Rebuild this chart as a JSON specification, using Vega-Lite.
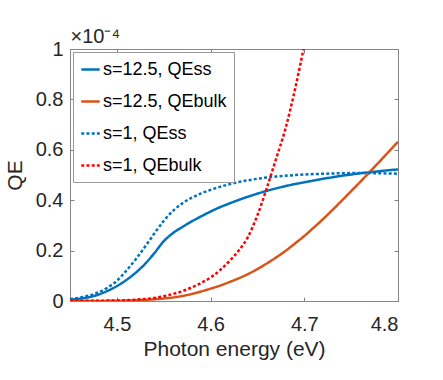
{
  "$schema": "https://vega.github.io/schema/vega-lite/v6.json",
  "width": 328,
  "height": 252,
  "autosize": {"type": "none"},
  "padding": {"left": 70, "top": 49, "right": 45, "bottom": 79},
  "config": {
    "font": "Liberation Sans",
    "view": {"stroke": "#868686", "strokeWidth": 1},
    "axis": {"domain": false, "grid": false, "ticks": true, "tickColor": "#808080", "tickSize": 4, "tickWidth": 1, "labelFontSize": 20, "labelColor": "#262626", "titleFontSize": 21, "titleFontWeight": "normal", "titleColor": "#262626", "labelFont": "Liberation Sans", "titleFont": "Liberation Sans"},
    "legend": {"orient": "top-left", "offset": 3, "fillColor": "white", "strokeColor": "#999999", "padding": 7, "labelFontSize": 18, "labelColor": "#000000", "labelFont": "Liberation Sans", "symbolType": "stroke", "symbolSize": 340, "symbolStrokeWidth": 2.5, "rowPadding": 12, "labelOffset": 2, "title": null}
  },
  "data": {"values": [
    {"e": 4.45, "qe": 0.005, "s": "s=12.5, QEss"},
    {"e": 4.46, "qe": 0.009, "s": "s=12.5, QEss"},
    {"e": 4.47, "qe": 0.015, "s": "s=12.5, QEss"},
    {"e": 4.48, "qe": 0.025, "s": "s=12.5, QEss"},
    {"e": 4.49, "qe": 0.04, "s": "s=12.5, QEss"},
    {"e": 4.50, "qe": 0.059, "s": "s=12.5, QEss"},
    {"e": 4.51, "qe": 0.083, "s": "s=12.5, QEss"},
    {"e": 4.52, "qe": 0.112, "s": "s=12.5, QEss"},
    {"e": 4.53, "qe": 0.147, "s": "s=12.5, QEss"},
    {"e": 4.54, "qe": 0.19, "s": "s=12.5, QEss"},
    {"e": 4.55, "qe": 0.237, "s": "s=12.5, QEss"},
    {"e": 4.56, "qe": 0.27, "s": "s=12.5, QEss"},
    {"e": 4.57, "qe": 0.294, "s": "s=12.5, QEss"},
    {"e": 4.58, "qe": 0.316, "s": "s=12.5, QEss"},
    {"e": 4.59, "qe": 0.336, "s": "s=12.5, QEss"},
    {"e": 4.60, "qe": 0.355, "s": "s=12.5, QEss"},
    {"e": 4.61, "qe": 0.372, "s": "s=12.5, QEss"},
    {"e": 4.62, "qe": 0.387, "s": "s=12.5, QEss"},
    {"e": 4.63, "qe": 0.401, "s": "s=12.5, QEss"},
    {"e": 4.64, "qe": 0.414, "s": "s=12.5, QEss"},
    {"e": 4.65, "qe": 0.426, "s": "s=12.5, QEss"},
    {"e": 4.66, "qe": 0.437, "s": "s=12.5, QEss"},
    {"e": 4.67, "qe": 0.447, "s": "s=12.5, QEss"},
    {"e": 4.68, "qe": 0.456, "s": "s=12.5, QEss"},
    {"e": 4.69, "qe": 0.464, "s": "s=12.5, QEss"},
    {"e": 4.70, "qe": 0.471, "s": "s=12.5, QEss"},
    {"e": 4.71, "qe": 0.478, "s": "s=12.5, QEss"},
    {"e": 4.72, "qe": 0.485, "s": "s=12.5, QEss"},
    {"e": 4.73, "qe": 0.491, "s": "s=12.5, QEss"},
    {"e": 4.74, "qe": 0.497, "s": "s=12.5, QEss"},
    {"e": 4.75, "qe": 0.502, "s": "s=12.5, QEss"},
    {"e": 4.76, "qe": 0.507, "s": "s=12.5, QEss"},
    {"e": 4.77, "qe": 0.511, "s": "s=12.5, QEss"},
    {"e": 4.78, "qe": 0.515, "s": "s=12.5, QEss"},
    {"e": 4.79, "qe": 0.519, "s": "s=12.5, QEss"},
    {"e": 4.80, "qe": 0.522, "s": "s=12.5, QEss"},

    {"e": 4.45, "qe": 0.0, "s": "s=12.5, QEbulk"},
    {"e": 4.48, "qe": 0.0003, "s": "s=12.5, QEbulk"},
    {"e": 4.50, "qe": 0.001, "s": "s=12.5, QEbulk"},
    {"e": 4.52, "qe": 0.003, "s": "s=12.5, QEbulk"},
    {"e": 4.54, "qe": 0.007, "s": "s=12.5, QEbulk"},
    {"e": 4.55, "qe": 0.010, "s": "s=12.5, QEbulk"},
    {"e": 4.56, "qe": 0.014, "s": "s=12.5, QEbulk"},
    {"e": 4.57, "qe": 0.02, "s": "s=12.5, QEbulk"},
    {"e": 4.58, "qe": 0.028, "s": "s=12.5, QEbulk"},
    {"e": 4.59, "qe": 0.038, "s": "s=12.5, QEbulk"},
    {"e": 4.60, "qe": 0.049, "s": "s=12.5, QEbulk"},
    {"e": 4.61, "qe": 0.061, "s": "s=12.5, QEbulk"},
    {"e": 4.62, "qe": 0.075, "s": "s=12.5, QEbulk"},
    {"e": 4.63, "qe": 0.09, "s": "s=12.5, QEbulk"},
    {"e": 4.64, "qe": 0.107, "s": "s=12.5, QEbulk"},
    {"e": 4.65, "qe": 0.127, "s": "s=12.5, QEbulk"},
    {"e": 4.66, "qe": 0.149, "s": "s=12.5, QEbulk"},
    {"e": 4.67, "qe": 0.173, "s": "s=12.5, QEbulk"},
    {"e": 4.68, "qe": 0.199, "s": "s=12.5, QEbulk"},
    {"e": 4.69, "qe": 0.228, "s": "s=12.5, QEbulk"},
    {"e": 4.70, "qe": 0.258, "s": "s=12.5, QEbulk"},
    {"e": 4.71, "qe": 0.291, "s": "s=12.5, QEbulk"},
    {"e": 4.72, "qe": 0.325, "s": "s=12.5, QEbulk"},
    {"e": 4.73, "qe": 0.361, "s": "s=12.5, QEbulk"},
    {"e": 4.74, "qe": 0.398, "s": "s=12.5, QEbulk"},
    {"e": 4.75, "qe": 0.436, "s": "s=12.5, QEbulk"},
    {"e": 4.76, "qe": 0.474, "s": "s=12.5, QEbulk"},
    {"e": 4.77, "qe": 0.513, "s": "s=12.5, QEbulk"},
    {"e": 4.78, "qe": 0.552, "s": "s=12.5, QEbulk"},
    {"e": 4.79, "qe": 0.592, "s": "s=12.5, QEbulk"},
    {"e": 4.80, "qe": 0.632, "s": "s=12.5, QEbulk"},

    {"e": 4.45, "qe": 0.008, "s": "s=1, QEss"},
    {"e": 4.46, "qe": 0.013, "s": "s=1, QEss"},
    {"e": 4.47, "qe": 0.021, "s": "s=1, QEss"},
    {"e": 4.48, "qe": 0.034, "s": "s=1, QEss"},
    {"e": 4.49, "qe": 0.053, "s": "s=1, QEss"},
    {"e": 4.50, "qe": 0.08, "s": "s=1, QEss"},
    {"e": 4.51, "qe": 0.12, "s": "s=1, QEss"},
    {"e": 4.52, "qe": 0.165, "s": "s=1, QEss"},
    {"e": 4.53, "qe": 0.215, "s": "s=1, QEss"},
    {"e": 4.54, "qe": 0.268, "s": "s=1, QEss"},
    {"e": 4.55, "qe": 0.318, "s": "s=1, QEss"},
    {"e": 4.56, "qe": 0.358, "s": "s=1, QEss"},
    {"e": 4.57, "qe": 0.388, "s": "s=1, QEss"},
    {"e": 4.58, "qe": 0.41, "s": "s=1, QEss"},
    {"e": 4.59, "qe": 0.427, "s": "s=1, QEss"},
    {"e": 4.60, "qe": 0.441, "s": "s=1, QEss"},
    {"e": 4.61, "qe": 0.453, "s": "s=1, QEss"},
    {"e": 4.62, "qe": 0.463, "s": "s=1, QEss"},
    {"e": 4.63, "qe": 0.472, "s": "s=1, QEss"},
    {"e": 4.64, "qe": 0.479, "s": "s=1, QEss"},
    {"e": 4.65, "qe": 0.485, "s": "s=1, QEss"},
    {"e": 4.66, "qe": 0.49, "s": "s=1, QEss"},
    {"e": 4.67, "qe": 0.494, "s": "s=1, QEss"},
    {"e": 4.68, "qe": 0.497, "s": "s=1, QEss"},
    {"e": 4.69, "qe": 0.5, "s": "s=1, QEss"},
    {"e": 4.70, "qe": 0.502, "s": "s=1, QEss"},
    {"e": 4.72, "qe": 0.505, "s": "s=1, QEss"},
    {"e": 4.74, "qe": 0.507, "s": "s=1, QEss"},
    {"e": 4.76, "qe": 0.508, "s": "s=1, QEss"},
    {"e": 4.78, "qe": 0.507, "s": "s=1, QEss"},
    {"e": 4.80, "qe": 0.505, "s": "s=1, QEss"},

    {"e": 4.45, "qe": 0.0005, "s": "s=1, QEbulk"},
    {"e": 4.47, "qe": 0.001, "s": "s=1, QEbulk"},
    {"e": 4.49, "qe": 0.0015, "s": "s=1, QEbulk"},
    {"e": 4.50, "qe": 0.002, "s": "s=1, QEbulk"},
    {"e": 4.51, "qe": 0.003, "s": "s=1, QEbulk"},
    {"e": 4.52, "qe": 0.005, "s": "s=1, QEbulk"},
    {"e": 4.53, "qe": 0.008, "s": "s=1, QEbulk"},
    {"e": 4.54, "qe": 0.012, "s": "s=1, QEbulk"},
    {"e": 4.55, "qe": 0.019, "s": "s=1, QEbulk"},
    {"e": 4.56, "qe": 0.028, "s": "s=1, QEbulk"},
    {"e": 4.57, "qe": 0.039, "s": "s=1, QEbulk"},
    {"e": 4.58, "qe": 0.054, "s": "s=1, QEbulk"},
    {"e": 4.59, "qe": 0.072, "s": "s=1, QEbulk"},
    {"e": 4.60, "qe": 0.093, "s": "s=1, QEbulk"},
    {"e": 4.61, "qe": 0.122, "s": "s=1, QEbulk"},
    {"e": 4.62, "qe": 0.158, "s": "s=1, QEbulk"},
    {"e": 4.63, "qe": 0.2, "s": "s=1, QEbulk"},
    {"e": 4.64, "qe": 0.255, "s": "s=1, QEbulk"},
    {"e": 4.65, "qe": 0.34, "s": "s=1, QEbulk"},
    {"e": 4.66, "qe": 0.448, "s": "s=1, QEbulk"},
    {"e": 4.67, "qe": 0.565, "s": "s=1, QEbulk"},
    {"e": 4.68, "qe": 0.685, "s": "s=1, QEbulk"},
    {"e": 4.69, "qe": 0.838, "s": "s=1, QEbulk"},
    {"e": 4.70, "qe": 1.015, "s": "s=1, QEbulk"}
  ]},
  "layer": [
    {
      "mark": {"type": "line", "strokeWidth": 2.5, "clip": true, "strokeCap": "butt", "interpolate": "monotone"},
      "encoding": {
        "x": {"field": "e", "type": "quantitative", "scale": {"domain": [4.45, 4.8], "nice": false, "zero": false},
              "axis": {"orient": "bottom", "offset": -4, "values": [4.5, 4.6, 4.7, 4.8], "format": ".1f", "labelPadding": 13, "titlePadding": 4}, "title": "Photon energy (eV)"},
        "y": {"field": "qe", "type": "quantitative", "scale": {"domain": [0, 1], "nice": false},
              "axis": {"orient": "left", "offset": -4, "values": [0, 0.2, 0.4, 0.6, 0.8, 1], "format": "~g", "labelPadding": 7, "titlePadding": 10}, "title": "QE"},
        "color": {"field": "s", "type": "nominal",
                  "scale": {"domain": ["s=12.5, QEss", "s=12.5, QEbulk", "s=1, QEss", "s=1, QEbulk"], "range": ["#0072BD", "#D95319", "#0072BD", "#FF0000"]},
                  "legend": {"title": null}},
        "strokeDash": {"field": "s", "type": "nominal",
                  "scale": {"domain": ["s=12.5, QEss", "s=12.5, QEbulk", "s=1, QEss", "s=1, QEbulk"], "range": [[1, 0], [1, 0], [3, 2.2], [3, 2.2]]},
                  "legend": {"title": null}}
      }
    },
    {
      "mark": {"type": "line", "opacity": 0},
      "encoding": {
        "x": {"field": "e", "type": "quantitative", "axis": {"orient": "top", "offset": -4, "values": [4.5, 4.6, 4.7, 4.8], "labels": false, "title": "×10⁻⁴", "titleAnchor": "start", "titleAlign": "left", "titleFontSize": 20, "titlePadding": 7, "titleColor": "#262626", "titleFontWeight": "normal", "minExtent": 0, "maxExtent": 0}},
        "y": {"field": "qe", "type": "quantitative", "axis": {"orient": "right", "offset": -4, "values": [0, 0.2, 0.4, 0.6, 0.8, 1], "labels": false, "title": null, "minExtent": 0, "maxExtent": 0}},
        "detail": {"field": "s"}
      }
    }
  ],
  "resolve": {"axis": {"x": "independent", "y": "independent"}}
}
